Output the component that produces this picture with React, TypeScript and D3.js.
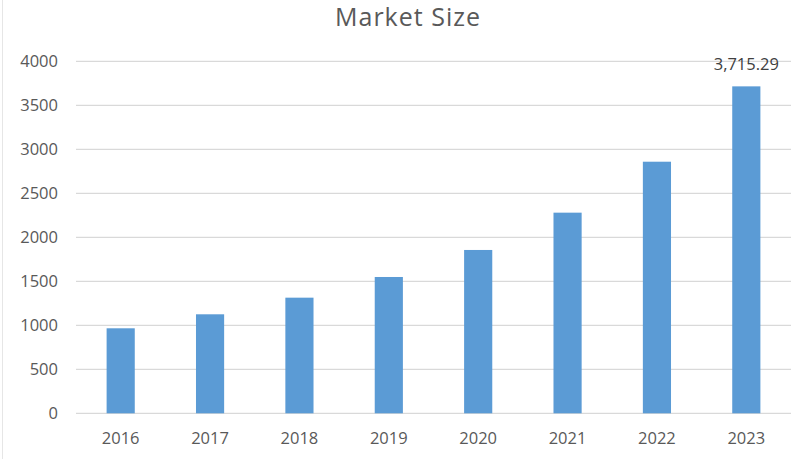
import { useEffect, useRef } from 'react';
import * as d3 from 'd3';

const years = ['2016', '2017', '2018', '2019', '2020', '2021', '2022', '2023'];
const marketSize = [966, 1125, 1314, 1549, 1856, 2280, 2859, 3715.29];
const yTicks = [0, 500, 1000, 1500, 2000, 2500, 3000, 3500, 4000];

const W = 800;
const H = 459;

export default function App() {
  const svgRef = useRef<SVGSVGElement>(null);

  useEffect(() => {
    document.body.style.margin = '0';
    if (!svgRef.current) return;

    const svg = d3.select(svgRef.current);
    svg.selectAll('*').remove();

    const margin = { top: 61.3, right: 9, bottom: 45.7, left: 76 };
    const font = "'Open Sans', sans-serif";
    const textColor = '#595959';

    const x = d3
      .scaleBand()
      .domain(years)
      .range([margin.left, W - margin.right])
      .padding(0);

    const y = d3
      .scaleLinear()
      .domain([0, 4000])
      .range([H - margin.bottom, margin.top]);

    const barW = x.bandwidth() * 0.315;

    // faint chart border on the left
    svg.append('line')
      .attr('x1', 2.5).attr('x2', 2.5)
      .attr('y1', 0).attr('y2', H)
      .attr('stroke', '#e6e6e6')
      .attr('stroke-width', 1);

    // title
    svg.append('text')
      .attr('x', 408)
      .attr('y', 26)
      .attr('text-anchor', 'middle')
      .attr('font-family', font)
      .attr('font-size', 25)
      .attr('letter-spacing', 1)
      .attr('fill', textColor)
      .text('Market Size');

    // gridlines
    svg.append('g')
      .selectAll('line')
      .data(yTicks)
      .join('line')
      .attr('x1', margin.left)
      .attr('x2', W - margin.right)
      .attr('y1', (d) => y(d))
      .attr('y2', (d) => y(d))
      .attr('stroke', '#d9d9d9')
      .attr('stroke-width', 1.3);

    // y labels
    svg.append('g')
      .selectAll('text')
      .data(yTicks)
      .join('text')
      .attr('x', 58)
      .attr('y', (d) => y(d))
      .attr('dy', '0.35em')
      .attr('text-anchor', 'end')
      .attr('font-family', font)
      .attr('font-size', 16.5)
      .attr('fill', textColor)
      .text((d) => String(d));

    // bars
    svg.append('g')
      .selectAll('rect')
      .data(years)
      .join('rect')
      .attr('x', (d) => x(d)! + x.bandwidth() / 2 - barW / 2)
      .attr('y', (_, i) => y(marketSize[i]))
      .attr('width', barW)
      .attr('height', (_, i) => y(0) - y(marketSize[i]))
      .attr('fill', '#5b9bd5');

    // x labels
    svg.append('g')
      .selectAll('text')
      .data(years)
      .join('text')
      .attr('x', (d) => x(d)! + x.bandwidth() / 2)
      .attr('y', 438)
      .attr('dy', '0.35em')
      .attr('text-anchor', 'middle')
      .attr('font-family', font)
      .attr('font-size', 16.5)
      .attr('fill', textColor)
      .text((d) => d);

    // data label on the last bar
    const last = years.length - 1;
    svg.append('text')
      .attr('x', x(years[last])! + x.bandwidth() / 2)
      .attr('y', y(marketSize[last]) - 22)
      .attr('dy', '0.35em')
      .attr('text-anchor', 'middle')
      .attr('font-family', font)
      .attr('font-size', 16.5)
      .attr('fill', '#404040')
      .text(d3.format(',.2f')(marketSize[last]));
  }, []);

  return <svg ref={svgRef} width={W} height={H} style={{ display: 'block', background: '#fff' }} />;
}
